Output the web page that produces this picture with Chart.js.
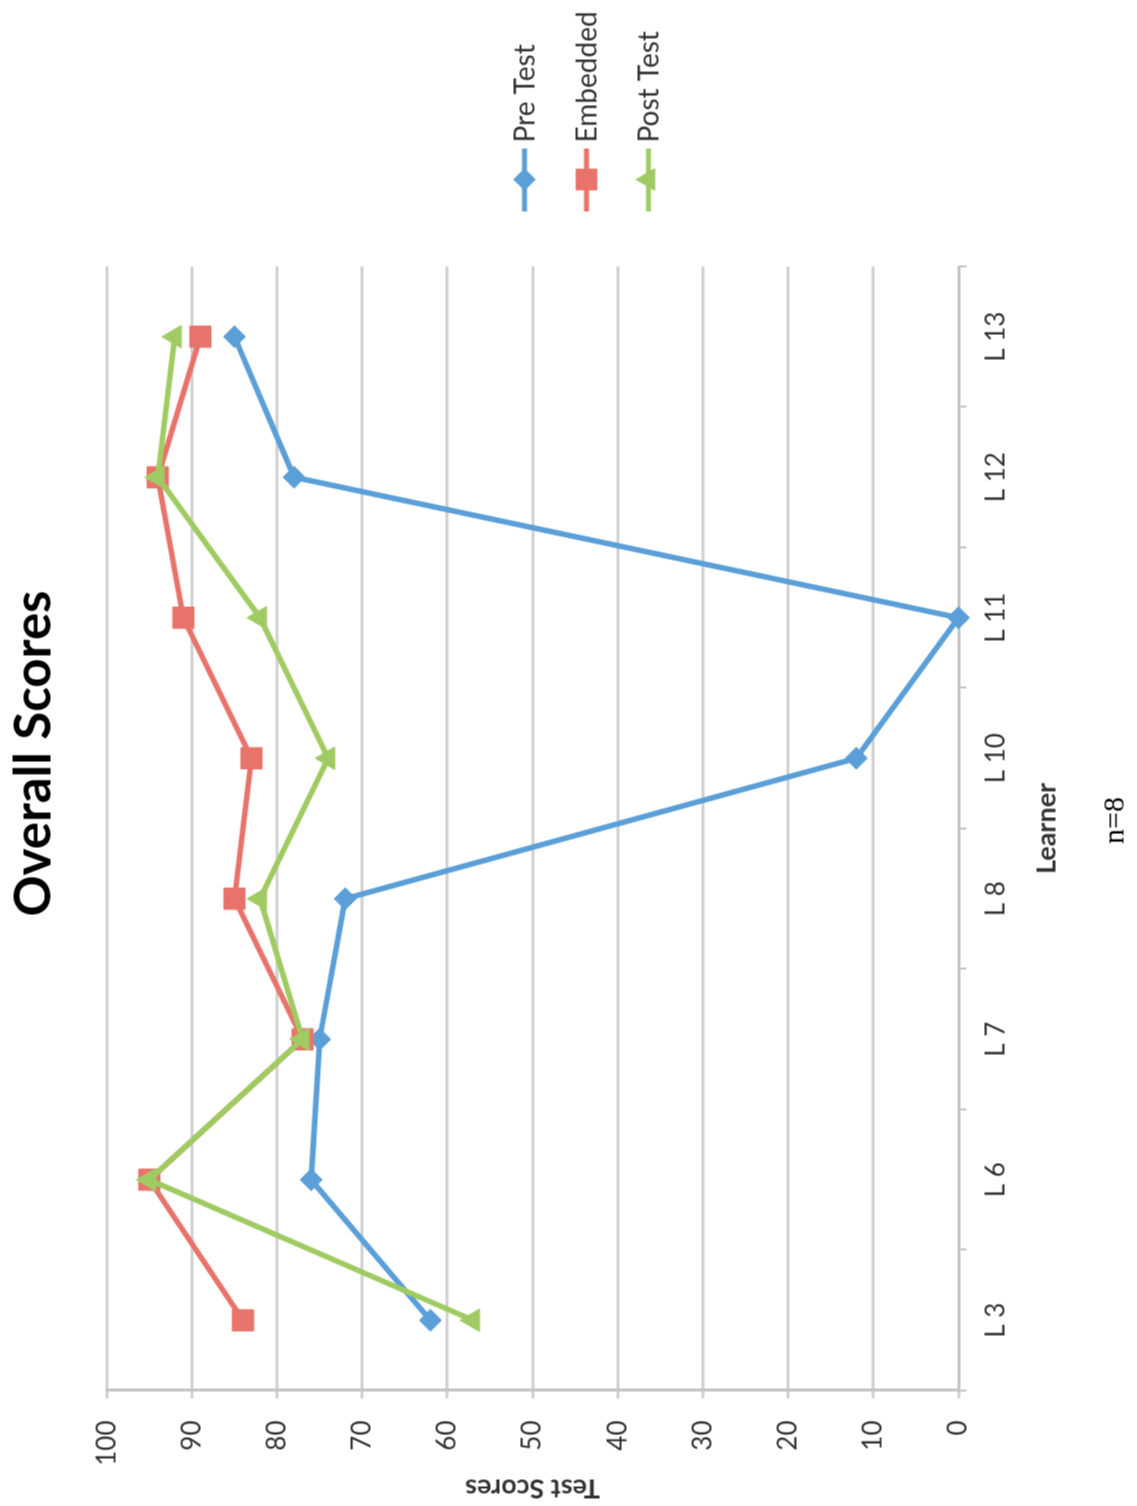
<!DOCTYPE html>
<html>
<head>
<meta charset="utf-8">
<script src="https://cdn.jsdelivr.net/npm/chart.js@4.4.1/dist/chart.umd.min.js"></script>
<style>
  html, body { margin: 0; padding: 0; background: #fff; overflow: hidden; }
  body { width: 1137px; height: 1506px; position: relative; }
  /* chart is laid out landscape, then turned a quarter to the left like the scan */
  #wrap {
    position: absolute; left: -184.5px; top: 184.5px;
    width: 1506px; height: 1137px;
    transform: rotate(-90deg);
  }
  #note {
    position: absolute; left: 586px; width: 200px; top: 1096px;
    text-align: center; font: 30px "Liberation Serif", serif; color: #000;
  }
</style>
</head>
<body>
<div id="wrap">
  <canvas id="myChart" width="1506" height="1137"></canvas>
  <div id="note">n=8</div>
</div>
<script>
const learners = ['L 3', 'L 6', 'L 7', 'L 8', 'L 10', 'L 11', 'L 12', 'L 13'];
const preTest  = [62, 76, 75, 72, 12, 0, 78, 85];
const embedded = [84, 95, 77, 85, 83, 91, 94, 89];
const postTest = [57, 95, 77, 82, 74, 82, 94, 92];
const scoreMin = 0;
const scoreMax = 100;
const scoreStep = 10;

const blue = '#5B9FD8';
const red = '#E8736A';
const green = '#A0CB62';
const textColor = '#333333';

Chart.defaults.font.family = 'Lato';
Chart.defaults.color = textColor;

// legend drawn by hand: line with the marker through it, like Excel
const lineLegend = {
  id: 'lineLegend',
  afterDraw(chart) {
    const ctx = chart.ctx;
    ctx.save();
    chart.data.datasets.forEach((ds, i) => {
      const y = 524 + i * 62;
      ctx.strokeStyle = ds.borderColor;
      ctx.lineWidth = 5;
      ctx.beginPath();
      ctx.moveTo(1295, y);
      ctx.lineTo(1358, y);
      ctx.stroke();
      ctx.fillStyle = ds.borderColor;
      Chart.helpers.drawPoint(ctx, {
        pointStyle: ds.pointStyle, radius: ds.pointRadius, rotation: 0, borderWidth: 0
      }, 1327, y);
      ctx.fill();
      ctx.fillStyle = textColor;
      ctx.font = '28px Lato';
      ctx.textBaseline = 'middle';
      ctx.textAlign = 'left';
      ctx.fillText(ds.label, 1364, y + 1);
    });
    ctx.restore();
  }
};

const data = {
  labels: learners,
  datasets: [
    {
      label: 'Pre Test', data: preTest, order: 3,
      borderColor: blue, backgroundColor: blue, borderWidth: 5.5,
      pointStyle: 'rectRot', pointRadius: 11, pointBorderWidth: 1, clip: false
    },
    {
      label: 'Embedded', data: embedded, order: 2,
      borderColor: red, backgroundColor: red, borderWidth: 5.5,
      pointStyle: 'rect', pointRadius: 15, pointBorderWidth: 1, clip: false
    },
    {
      label: 'Post Test', data: postTest, order: 1,
      borderColor: green, backgroundColor: green, borderWidth: 5.5,
      pointStyle: 'triangle', pointRadius: 13, pointBorderWidth: 1, clip: false
    }
  ]
};

const config = {
  type: 'line',
  data: data,
  plugins: [lineLegend],
  options: {
    responsive: false,
    animation: false,
    layout: { padding: 0 },
    plugins: {
      legend: { display: false },
      tooltip: { enabled: false },
      title: {
        display: true,
        text: 'Overall Scores',
        color: '#000',
        font: { size: 51, weight: 'bold' },
        padding: { top: 3, bottom: 42 }
      }
    },
    scales: {
      x: {
        offset: true,
        afterFit: (s) => { s.height = 179; },
        grid: { offset: true, drawOnChartArea: false, color: '#C4C4C4', lineWidth: 2, tickLength: 8 },
        border: { color: '#C4C4C4', width: 3 },
        ticks: { font: { size: 26 }, padding: 14, color: textColor },
        title: {
          display: true, text: 'Learner', color: textColor,
          font: { size: 27, weight: 'bold' }, padding: { top: 0, bottom: 75 }
        }
      },
      y: {
        min: scoreMin, max: scoreMax,
        afterFit: (s) => { s.width = 116; },
        grid: { color: '#D2D2D2', lineWidth: 3, tickLength: 8 },
        border: { color: '#C4C4C4', width: 3 },
        ticks: { stepSize: scoreStep, font: { size: 26 }, padding: 22, color: textColor },
        title: {
          display: true, text: 'Test Scores', color: textColor,
          font: { size: 27, weight: 'bold' }, padding: { top: 2, bottom: 0 }
        }
      },
      // empty room on the right for the legend
      spacer: {
        type: 'linear', position: 'right', display: true,
        afterFit: (s) => { s.width = 266; },
        grid: { display: false }, border: { display: false },
        ticks: { display: false }
      }
    }
  }
};

var myChart = new Chart(document.getElementById('myChart'), config);
</script>
</body>
</html>
